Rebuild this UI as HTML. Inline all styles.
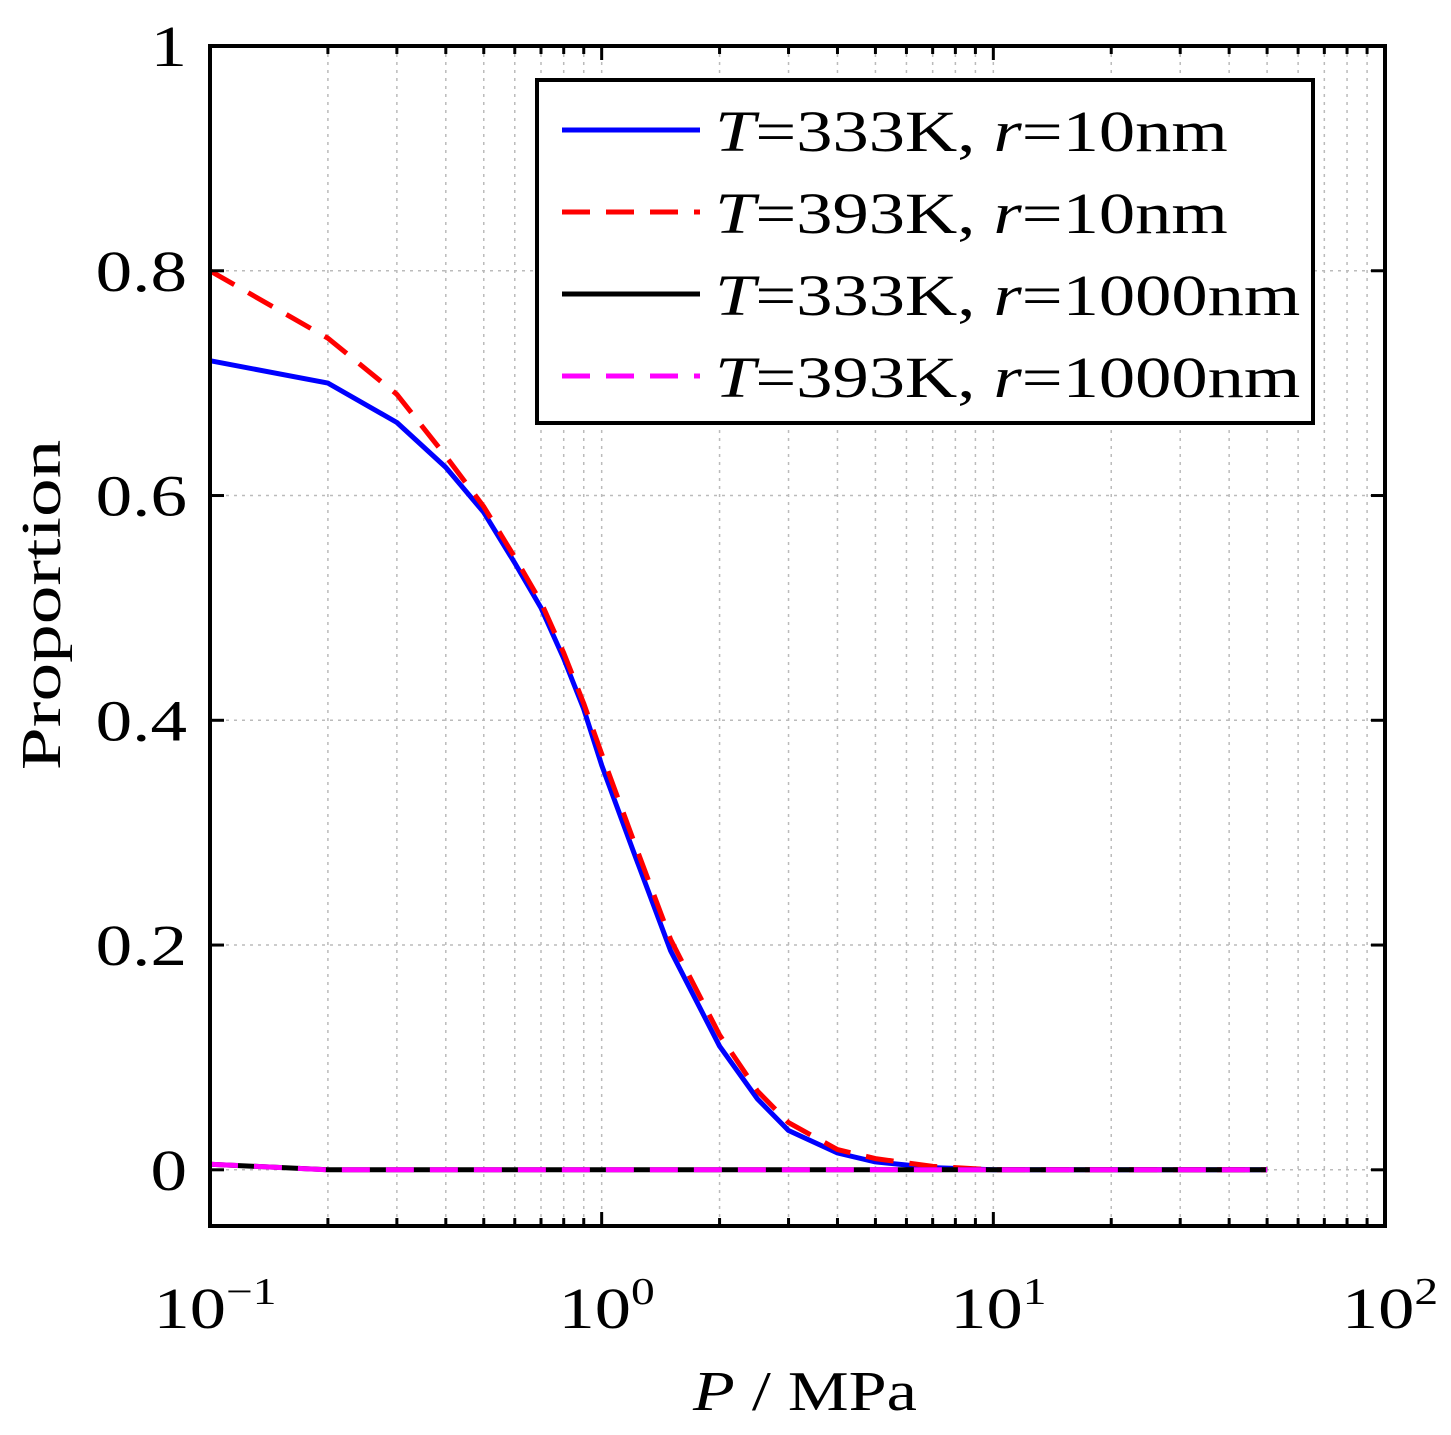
<!DOCTYPE html>
<html><head><meta charset="utf-8"><style>
html,body{margin:0;padding:0;background:#fff;}
svg{display:block;font-family:"Liberation Serif",serif;}
</style></head><body>
<svg id="chart" width="1451" height="1435" viewBox="0 0 1451 1435" xmlns="http://www.w3.org/2000/svg">
<g id="grid"></g>
<g id="series"></g>
<rect x="210" y="46" width="1175" height="1180" fill="none" stroke="#000" stroke-width="4"/>
<g id="ticks"></g>
<text transform="translate(60,605) rotate(-90) scale(1.38,1)" text-anchor="middle" font-size="56">Proportion</text>
<text transform="translate(805,1410) scale(1.22,1)" text-anchor="middle" font-size="56"><tspan font-style="italic">P</tspan> / MPa</text>
<g>
<rect x="537" y="80" width="776" height="343" fill="#fff" stroke="#000" stroke-width="4"/>
<g id="legend-entries"></g>
</g>
</svg>
<script>
const blueP=[0.1,0.2,0.3,0.4,0.5,0.6,0.7,0.8,0.9,1.0,1.2,1.5,2,2.5,3,4,5,7,10,50];
const blueV=[0.72,0.70,0.665,0.625,0.585,0.54,0.5,0.455,0.41,0.36,0.285,0.195,0.11,0.063,0.035,0.015,0.007,0.002,0,0];
const redP=[0.1,0.2,0.3,0.4,0.5,0.6,0.7,0.8,0.9,1.0,1.2,1.5,2,2.5,3,4,5,7,10,50];
const redV=[0.80,0.74,0.69,0.635,0.59,0.545,0.505,0.46,0.415,0.37,0.295,0.205,0.12,0.07,0.042,0.018,0.01,0.003,0,0];
const blackP=[0.1,0.2,0.5,1,10,50];
const blackV=[0.005,0,0,0,0,0];
const magentaP=[0.1,0.2,0.5,1,10,50];
const magentaV=[0.005,0,0,0,0,0];
const yTicks=[0,0.2,0.4,0.6,0.8,1];
const yTickLabels=["0","0.2","0.4","0.6","0.8","1"];
const xDecades=[-1,0,1,2];
const legendLabels=[["333K","10nm"],["393K","10nm"],["333K","1000nm"],["393K","1000nm"]];

const NS="http://www.w3.org/2000/svg";
const X0=210,X1=1385,Ytop=46,Ybot=1226,ymin=-0.05,ymax=1;
function xs(p){return X0+(Math.log10(p)+1)/3*(X1-X0);}
function ys(v){return Ybot-(v-ymin)/(ymax-ymin)*(Ybot-Ytop);}
function mk(t,attrs,parent){const e=document.createElementNS(NS,t);for(const k in attrs)e.setAttribute(k,attrs[k]);parent.appendChild(e);return e;}
const grid=document.getElementById('grid'),ticks=document.getElementById('ticks'),ser=document.getElementById('series');
for(let d=-1;d<2;d++){for(let m=1;m<10;m++){const x=xs(m*Math.pow(10,d));
 const g=mk('line',{x1:x,x2:x,y1:Ytop,y2:Ybot,stroke:'#bbb','stroke-width':1.5,'stroke-dasharray':'3,5'},grid);
 
 
 const len=m===1?14:8;
 const t1=mk('line',{x1:x,x2:x,y1:Ybot,y2:Ybot-len,stroke:'#000','stroke-width':3},ticks);
 
 
 const t2=mk('line',{x1:x,x2:x,y1:Ytop,y2:Ytop+len,stroke:'#000','stroke-width':3},ticks);
 
 
}}
yTicks.forEach((v,i)=>{const y=ys(v);
 const g=mk('line',{x1:X0,x2:X1,y1:y,y2:y,stroke:'#bbb','stroke-width':1.5,'stroke-dasharray':'3,5'},grid);
 
 
 [[X0,X0+14],[X1,X1-14]].forEach(([a,b])=>{const t=mk('line',{x1:a,x2:b,y1:y,y2:y,stroke:'#000','stroke-width':3},ticks);
 
 });
 const tx=mk('text',{transform:'translate(187,'+(y+20)+') scale(1.26,1)','text-anchor':'end','font-size':58},ticks);tx.textContent=yTickLabels[i];
 
 
});
xDecades.forEach(d=>{const x=xs(Math.pow(10,d));
 const tx=mk('text',{transform:'translate('+(x+5)+',1328) scale(1.25,1)','text-anchor':'middle','font-size':58},ticks);
 tx.innerHTML='10<tspan dy="-24" font-size="38">'+(d<0?'\u2212'+(-d):d)+'</tspan>';
 
 
});
function line(P,V,color,dash,name){const d=P.map((p,i)=>(i?'L':'M')+xs(p).toFixed(1)+','+ys(V[i]).toFixed(1)).join('');
 const e=mk('path',{d:d,fill:'none',stroke:color,'stroke-width':5,'stroke-dasharray':dash,'stroke-linejoin':'round'},ser);
 
 }
line(blueP,blueV,'#0000ff','none','series-333k-10nm');
line(redP,redV,'#ff0000','28,16','series-393k-10nm');
line(blackP,blackV,'#000','none','series-333k-1000nm');
line(magentaP,magentaV,'#ff00ff','28,16','series-393k-1000nm');
const colors=['#0000ff','#ff0000','#000','#ff00ff'],dashes=['none','28,16','none','28,16'];
const le=document.getElementById('legend-entries');
legendLabels.forEach((l,i)=>{const y=130+i*82;
 const ln=mk('line',{x1:562,x2:700,y1:y,y2:y,stroke:colors[i],'stroke-width':5,'stroke-dasharray':dashes[i]},le);
 
 
 const t=mk('text',{transform:'translate(715,'+(y+21)+') scale(1.25,1)','font-size':58},le);
 t.innerHTML='<tspan font-style="italic">T</tspan>='+l[0]+', <tspan font-style="italic">r</tspan>='+l[1];
 
 
});
</script>
</body></html>
